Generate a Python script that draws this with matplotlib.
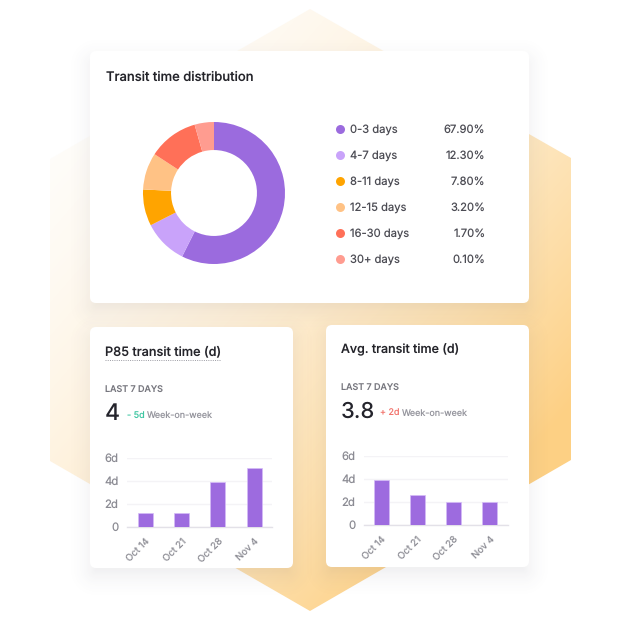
import numpy as np
import matplotlib
matplotlib.use("Agg")
import matplotlib.pyplot as plt
from matplotlib.colors import LinearSegmentedColormap
from matplotlib.patches import FancyBboxPatch, Polygon

plt.rcParams['font.family'] = ['Inter', 'DejaVu Sans']
plt.rcParams['text.hinting'] = 'no_hinting'
plt.rcParams['text.hinting_factor'] = 1

# ---- data ----
dist_labels = ['0-3 days', '4-7 days', '8-11 days', '12-15 days', '16-30 days', '30+ days']
dist_text = ['67.90%', '12.30%', '7.80%', '3.20%', '1.70%', '0.10%']
# slice sizes as drawn in the picture (they differ from the printed legend percentages)
dist_drawn = [57.4, 10.1, 8.3, 8.4, 11.4, 4.4]
dist_colors = ['#9B6BDE', '#C9A3FA', '#FFA400', '#FFC285', '#FF7058', '#FF9C90']

weeks = ['Oct 14', 'Oct 21', 'Oct 28', 'Nov 4']
p85_values = [1.2, 1.2, 3.9, 5.1]
avg_values = [3.9, 2.6, 2.0, 2.0]
y_ticks = [0, 2, 4, 6]
y_tick_labels = ['0', '2d', '4d', '6d']

W = H = 620
fig = plt.figure(figsize=(6.2, 6.2), dpi=100, facecolor='white')


def px_axes(x0, y0, x1, y1, **kw):
    return fig.add_axes([x0 / W, 1 - y1 / H, (x1 - x0) / W, (y1 - y0) / H], **kw)


bg = fig.add_axes([0, 0, 1, 1])
bg.set_xlim(0, W)
bg.set_ylim(H, 0)
bg.axis('off')

# hexagon with gradient
yy, xx = np.mgrid[0:H, 0:W] + 0.5
t = np.clip((xx - 50) / 520 * 0.6 + (yy - 10) / 600 * 0.6, 0, 1) ** 1.8
cmap = LinearSegmentedColormap.from_list('h', ['#FFFEFD', '#FDD084'])
im = bg.imshow(t, cmap=cmap, vmin=0, vmax=1, extent=(0, W, H, 0), zorder=1, aspect='auto')
hexa = Polygon([(310, 9), (571, 158), (571, 460), (310, 611), (50, 461), (50, 159)],
               transform=bg.transData, fc='none', ec='none')
bg.add_patch(hexa)
im.set_clip_path(hexa)


def shadow(x0, y0, x1, y1, off=8, blur=34, alpha=0.075):
    cx, cy = (x0 + x1) / 2, (y0 + y1) / 2 + off
    hw, hh = (x1 - x0) / 2 - 6, (y1 - y0) / 2 - 6
    dx = np.abs(xx - cx) - hw
    dy = np.abs(yy - cy) - hh
    d = np.hypot(np.maximum(dx, 0), np.maximum(dy, 0)) + np.minimum(np.maximum(dx, dy), 0)
    a = np.clip(1 - d / blur, 0, 1) ** 2.2 * alpha
    rgba = np.zeros((H, W, 4))
    rgba[..., :3] = (0.28, 0.27, 0.36)
    rgba[..., 3] = a
    bg.imshow(rgba, extent=(0, W, H, 0), zorder=2, aspect='auto')


def card(x0, y0, x1, y1):
    shadow(x0, y0, x1, y1)
    r = 6
    bg.add_patch(FancyBboxPatch((x0 + r, y0 + r), x1 - x0 - 2 * r, y1 - y0 - 2 * r,
                                boxstyle=f'round,pad={r},rounding_size={r}',
                                fc='white', ec='none', zorder=3))


card(90, 51, 529, 303)
card(90, 327, 293, 568)
card(326, 325, 529, 567)
bg.set_xlim(0, W)
bg.set_ylim(H, 0)

TITLE = '#24242A'
MUTED = '#8B8B93'
BODY = '#4C4C54'


def txt(x, y, s, size_px, color, weight='normal', ha='left'):
    bg.text(x, y + size_px * 0.36, s, fontsize=size_px * 0.72, color=color, weight=weight, ha=ha,
            va='baseline', zorder=5)


# donut card
txt(106, 76, 'Transit time distribution', 13, TITLE, 'medium')
ax = px_axes(143, 122, 285, 264)
ax.pie(dist_drawn, colors=dist_colors, startangle=90, counterclock=False, radius=1,
       wedgeprops=dict(width=0.395, linewidth=0))
ax.set_xlim(-1, 1)
ax.set_ylim(-1, 1)
ax.set_aspect('equal')
rows = [129, 155, 181, 207, 233, 259]
for y, lab, val, c in zip(rows, dist_labels, dist_text, dist_colors):
    bg.scatter([340], [y], s=42, color=c, linewidths=0, zorder=5)
    txt(350.5, y, lab, 11.2, BODY)
    txt(485.5, y, val, 11.2, BODY, ha='right')


def bar_panel(x_lo, x_hi, y0, y6, centers_first, step, values):
    ax = px_axes(x_lo, y6, x_hi, y0)
    ax.patch.set_alpha(0)
    ax.set_xlim(x_lo, x_hi)
    pos = [centers_first + i * step for i in range(len(values))]
    ax.bar(pos, values, width=15, color='#9D6BDF', edgecolor='#D5BCF8', linewidth=0.5, zorder=3)
    ax.set_ylim(0, 6)
    ax.set_yticks(y_ticks)
    ax.set_yticklabels(y_tick_labels, fontsize=8.2, color=MUTED)
    ax.set_xticks(pos)
    ax.set_xticklabels(weeks, fontsize=6.9, color=MUTED, rotation=45, ha='right', rotation_mode='anchor')
    ax.tick_params(axis='both', length=0)
    ax.tick_params(axis='y', pad=6)
    ax.tick_params(axis='x', pad=7)
    ax.grid(axis='y', color='#F4F3F6', linewidth=1, zorder=0)
    for s in ['top', 'right', 'left']:
        ax.spines[s].set_visible(False)
    ax.spines['bottom'].set_color('#E3E1E8')
    ax.spines['bottom'].set_linewidth(1)
    return ax


# P85 card
txt(105, 351, 'P85 transit time (d)', 12.7, TITLE, 'medium')
bg.plot([105, 220], [359.5, 359.5], color='#9A9AA2', lw=0.7, ls=(0, (1, 1.3)), zorder=5)
txt(105, 390, 'LAST 7 DAYS', 9, '#77777F', 'medium')
txt(105, 412, '4', 23, '#24242C', 'medium')
txt(127, 415, '- 5d', 9, '#3FC6A2')
txt(147, 415, 'Week-on-week', 9, '#96969E')
bar_panel(127, 272, 526.7, 458, 145, 36.4, p85_values)

# Avg card
txt(341, 349, 'Avg. transit time (d)', 12.5, TITLE, 'medium')
txt(341, 388, 'LAST 7 DAYS', 9, '#77777F', 'medium')
txt(341, 410, '3.8', 22, '#24242C', 'medium')
txt(380, 413, '+ 2d', 9, '#F2756E')
txt(402, 413, 'Week-on-week', 9, '#96969E')
bar_panel(364, 508, 525, 456, 381, 36.3, avg_values)

fig.savefig('out.png', dpi=100)
